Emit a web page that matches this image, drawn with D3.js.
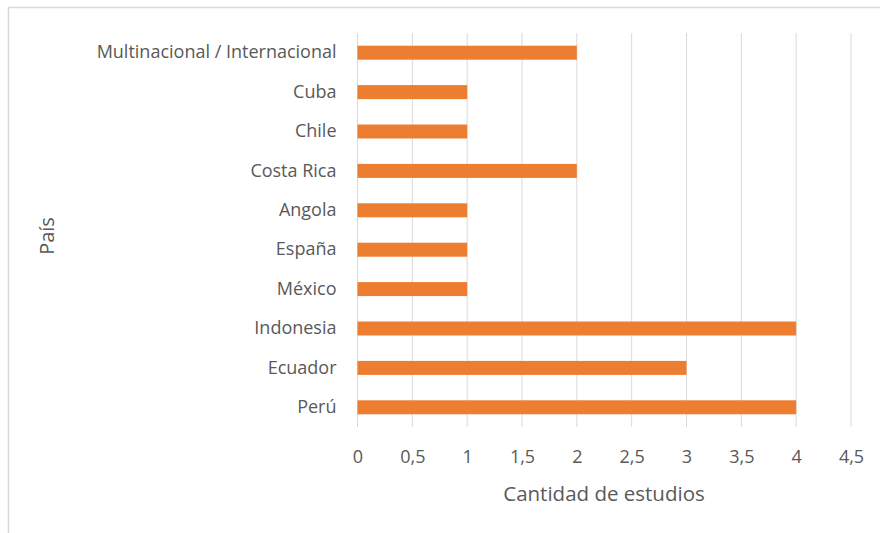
<!DOCTYPE html>
<html><head><meta charset="utf-8">
<script src="https://cdn.jsdelivr.net/npm/d3@7"></script>
<style>body{margin:0;background:#fff}svg{display:block}text{font-family:"Open Sans",sans-serif;fill:#595959}</style>
</head><body><svg id="c" width="880" height="533"></svg>
<script>
const categories = ["Multinacional / Internacional","Cuba","Chile","Costa Rica","Angola","España","México","Indonesia","Ecuador","Perú"];
const values = [2,1,1,2,1,1,1,4,3,4];
const xTicks = [0,0.5,1,1.5,2,2.5,3,3.5,4,4.5];
const xTitle = "Cantidad de estudios";
const yTitle = "País";

const svg = d3.select("#c");
svg.append("rect").attr("x",8.5).attr("y",7.5).attr("width",900).attr("height",600)
  .attr("fill","none").attr("stroke","#d9d9d9").attr("stroke-width",1.5);
const m = {left:357.5, right:851, top:33, bottom:427};
const x = d3.scaleLinear().domain([0,4.5]).range([m.left,m.right]);
const y = d3.scaleBand().domain(categories).range([m.top,m.bottom]).paddingInner(0.645).paddingOuter(0.3225);
const fmt = d => String(d).replace(".",",");

svg.append("g").selectAll("line").data(xTicks).join("line")
  .attr("x1",d=>x(d)).attr("x2",d=>x(d)).attr("y1",m.top).attr("y2",m.bottom)
  .attr("stroke","#d9d9d9").attr("stroke-width",1);

svg.append("g").selectAll("rect").data(categories).join("rect")
  .attr("x",x(0)).attr("y",d=>y(d)).attr("height",y.bandwidth())
  .attr("width",(d,i)=>x(values[i])-x(0)).attr("fill","#ED7D31");

const xa = svg.append("g").attr("transform",`translate(0,${m.bottom})`)
  .call(d3.axisBottom(x).tickValues(xTicks).tickFormat(fmt).tickSize(0).tickPadding(23));
xa.select(".domain").remove();
xa.selectAll("text").attr("font-size",18).style("font-family","'Open Sans',sans-serif").attr("fill","#595959");

const ya = svg.append("g").attr("transform",`translate(${m.left},0)`)
  .call(d3.axisLeft(y).tickSize(0).tickPadding(21));
ya.select(".domain").remove();
ya.selectAll("text").attr("font-size",18).style("font-family","'Open Sans',sans-serif").attr("fill","#595959");

svg.append("text").attr("x",604).attr("y",501).attr("text-anchor","middle").attr("font-size",20.5).text(xTitle);
svg.append("text").attr("transform","translate(54,236) rotate(-90)").attr("text-anchor","middle").attr("font-size",20).text(yTitle);
</script></body></html>
